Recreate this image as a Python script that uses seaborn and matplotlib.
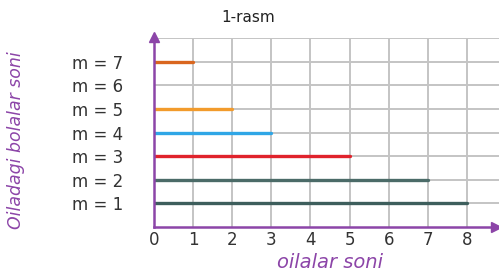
import pandas as pd
import seaborn as sns
import matplotlib.pyplot as plt

# Ma'lumotlar: har bir m (oiladagi bolalar soni) uchun oilalar soni
m_values = [1, 2, 3, 4, 5, 6, 7]
oilalar_soni = [8, 7, 5, 3, 2, 0, 1]
m_labels = ['m = 1', 'm = 2', 'm = 3', 'm = 4', 'm = 5', 'm = 6', 'm = 7']
x_ticks = [0, 1, 2, 3, 4, 5, 6, 7, 8]
line_colors = ['#3d5e5c', '#4b6b68', '#e0232c', '#2fa6e6', '#f29b2c', '#888888', '#d9661f']

purple = '#8c45a8'

# Har bir m uchun gorizontal chiziq: 0 dan oilalar soniga qadar
rows = []
for m, n in zip(m_values, oilalar_soni):
    if n > 0:
        rows.append({'m': m, 'x': 0, 'y': m})
        rows.append({'m': m, 'x': n, 'y': m})
df = pd.DataFrame(rows)

sns.set_style('white')
fig = plt.figure(figsize=(4.99, 2.70), dpi=100)
ax = fig.add_axes([154 / 499, 43 / 270, 345 / 499, 189 / 270])

# Grid
for xv in x_ticks[1:]:
    ax.axvline(xv, color='#c4c4c4', lw=1.4, zorder=1)
for yv in range(1, 9):
    ax.axhline(yv, color='#c4c4c4', lw=1.4, zorder=1)

sns.lineplot(
    data=df, x='x', y='y', hue='m',
    palette=dict(zip(m_values, line_colors)),
    units='m', estimator=None, sort=False,
    legend=False, lw=2.4, ax=ax, zorder=3
)

ax.set_xlim(0, 8.82)
ax.set_ylim(0, 8)

for s in ['top', 'right']:
    ax.spines[s].set_visible(False)
for s in ['left', 'bottom']:
    ax.spines[s].set_color(purple)
    ax.spines[s].set_linewidth(1.8)
    ax.spines[s].set_zorder(4)

# O'q uchlari
ax.plot([0], [8.05], marker='^', color=purple, ms=7, clip_on=False, zorder=5)
ax.plot([8.75], [0], marker='>', color=purple, ms=7, clip_on=False, zorder=5)

ax.set_xticks(x_ticks)
ax.set_xticklabels([str(v) for v in x_ticks], fontsize=12, color='#333333')
ax.set_yticks(m_values)
ax.set_yticklabels(m_labels, fontsize=12, color='#333333')
ax.tick_params(axis='x', length=0, pad=3)
ax.tick_params(axis='y', length=0, pad=22)
ax.set_xlabel('')
ax.set_ylabel('')

fig.text(248 / 499, 1 - 18 / 270, '1-rasm', ha='center', va='center',
         fontsize=11, color='#222222')
fig.text(330 / 499, 1 - 262 / 270, 'oilalar soni', ha='center', va='center',
         fontsize=14, style='italic', color=purple)
fig.text(16 / 499, 1 - 140 / 270, 'Oiladagi bolalar soni', ha='center', va='center',
         fontsize=12.5, style='italic', color=purple, rotation=90)

fig.savefig('out.png', dpi=100)
